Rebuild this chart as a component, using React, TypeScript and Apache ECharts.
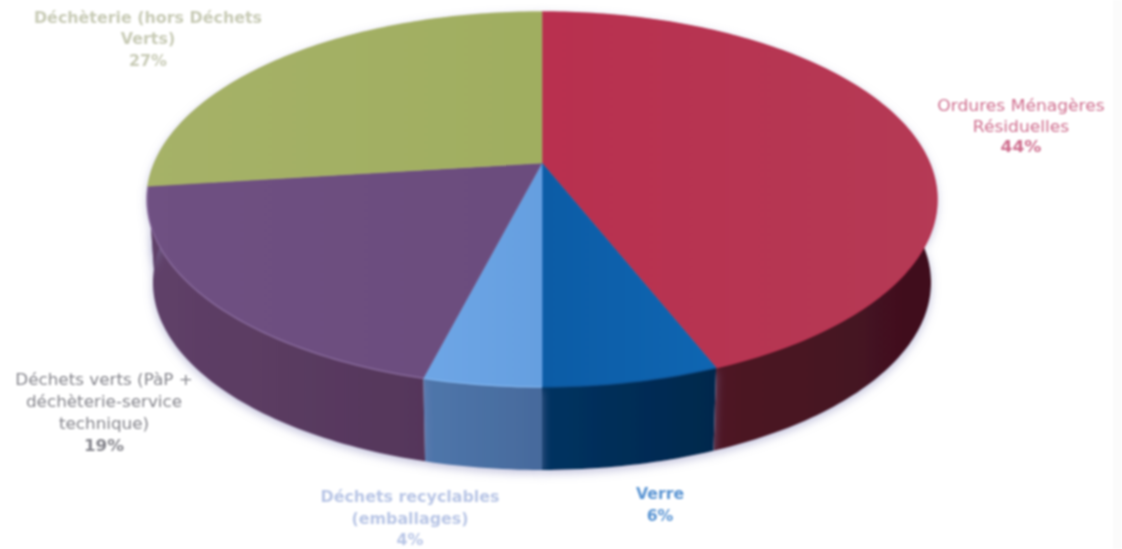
import React, { useEffect, useRef } from "react";
import * as echarts from "echarts";

const categories = [
  "Ordures Ménagères Résiduelles",
  "Verre",
  "Déchets recyclables (emballages)",
  "Déchets verts (PàP + déchèterie-service technique)",
  "Déchèterie (hors Déchets Verts)",
];
const values = [44, 6, 4, 19, 27];
const topColors = [
  ["#b9304f", "#b53a55"],
  ["#0c5ca6", "#0f66b2"],
  ["#6ea6e6", "#659fe0"],
  ["#6f5082", "#6b4c7d"],
  ["#a6b268", "#a0ae60"],
];
const sideColors = [
  ["#5a1a2a", "#3f101e"],
  ["#043261", "#03284c"],
  ["#4f76ab", "#466a9c"],
  ["#5f4068", "#55365a"],
  ["#5f4068", "#5f4068"],
];
const rimColors = ["#b9304f", "#0b4f90", "#7fb4ee", "#8c6ea0", "#a6b268"];

const labelLines = [
  { x: 1021, ys: [106, 127, 147], lines: ["Ordures Ménagères", "Résiduelles", "44%"], color: "#cf6f8f", bold: [false, false, true], sx: 1.14 },
  { x: 660, ys: [494, 516], lines: ["Verre", "6%"], color: "#5b95d3", bold: [true, true], sx: 1.05 },
  { x: 410, ys: [497, 519, 540], lines: ["Déchets recyclables", "(emballages)", "4%"], color: "#b9c6e6", bold: [true, true, true], sx: 1.06 },
  { x: 104, ys: [380, 402, 424, 446], lines: ["Déchets verts (PàP +", "déchèterie-service", "technique)", "19%"], color: "#85858c", bold: [false, false, false, true], sx: 1.12 },
  { x: 148, ys: [18, 39, 61], lines: ["Déchèterie (hors Déchets", "Verts)", "27%"], color: "#c8cbb6", bold: [true, true, true], sx: 1.06 },
];

// Perspective projection of a unit disc to the page.
const CX = 542;
const CY = 163;
const A = 387.4;
const B = 180.4;
const K = 0.1946;
const DEPTH = 83;
const BOTTOM_SCALE = 0.985;

const total = values.reduce((a, b) => a + b, 0);

function rim(theta: number): [number, number] {
  const u = Math.sin(theta);
  const v = Math.cos(theta);
  const d = 1 + K * v;
  return [CX + (A * u) / d, CY - (B * v) / d];
}
function lowerRim(theta: number): [number, number] {
  const [x, y] = rim(theta);
  return [CX + (x - CX) * BOTTOM_SCALE, y + DEPTH];
}
function sliceAngles(index: number): [number, number] {
  let before = 0;
  for (let i = 0; i < index; i++) before += values[i];
  return [(before / total) * Math.PI * 2, ((before + values[index]) / total) * Math.PI * 2];
}
function sweep(a: number, b: number, fn: (t: number) => [number, number]) {
  const n = Math.max(4, Math.ceil(((b - a) * 180) / Math.PI));
  const pts: [number, number][] = [];
  for (let i = 0; i <= n; i++) pts.push(fn(a + ((b - a) * i) / n));
  return pts;
}
const grad = (c: string[]) => ({
  type: "linear",
  x: 0,
  y: 0,
  x2: 1,
  y2: 0,
  colorStops: [
    { offset: 0, color: c[0] },
    { offset: 1, color: c[1] },
  ],
});

export default function App() {
  const ref = useRef<HTMLDivElement>(null);
  useEffect(() => {
    const chart = echarts.init(ref.current!, null, { renderer: "svg" });
    const graphic: any[] = [
      { type: "rect", shape: { x: 1113, y: 0, width: 9, height: 549 }, style: { fill: "#fbfbfb" }, silent: true },
    ];
    labelLines.forEach((l) => {
      l.lines.forEach((t, i) => {
        graphic.push({
          type: "text",
          x: l.x,
          y: l.ys[i],
          scaleX: l.sx,
          style: {
            text: t,
            fill: l.color,
            font: `${l.bold[i] ? "bold " : ""}15px "DejaVu Sans"`,
            align: "center",
            verticalAlign: "middle",
          },
          silent: true,
        });
      });
    });
    chart.setOption({
      animation: false,
      backgroundColor: "#ffffff",
      graphic,
      series: [
        {
          type: "custom",
          name: "sides",
          coordinateSystem: "none",
          silent: true,
          data: values.map((v) => [v]),
          renderItem: (params: any) => {
            const i = params.dataIndex;
            const [a, b] = sliceAngles(i);
            const upper = sweep(a, b, rim);
            const lower = sweep(a, b, lowerRim).reverse();
            return {
              type: "polygon",
              shape: { points: [...upper, ...lower] },
              style: {
                fill: grad(sideColors[i]),
                shadowColor: "rgba(140,140,190,0.55)",
                shadowBlur: 10,
                shadowOffsetY: 3,
              },
            };
          },
        },
        {
          type: "custom",
          name: "tops",
          coordinateSystem: "none",
          silent: true,
          data: values.map((v) => [v]),
          renderItem: (params: any) => {
            const i = params.dataIndex;
            const [a, b] = sliceAngles(i);
            const arc = sweep(a, b, rim);
            return {
              type: "group",
              children: [
                {
                  type: "polygon",
                  shape: { points: [[CX, CY], ...arc] },
                  style: { fill: grad(topColors[i]), stroke: topColors[i][0], lineWidth: 0.6 },
                },
                {
                  type: "polyline",
                  shape: { points: arc },
                  style: { stroke: rimColors[i], lineWidth: 1.5, fill: "none", opacity: 0.8 },
                },
              ],
            };
          },
        },
      ],
    });
    return () => chart.dispose();
  }, []);
  return (
    <div
      ref={ref}
      aria-label={categories.join(", ")}
      style={{ position: "fixed", left: 0, top: 0, width: 1122, height: 549, filter: "blur(0.8px)" }}
    />
  );
}
